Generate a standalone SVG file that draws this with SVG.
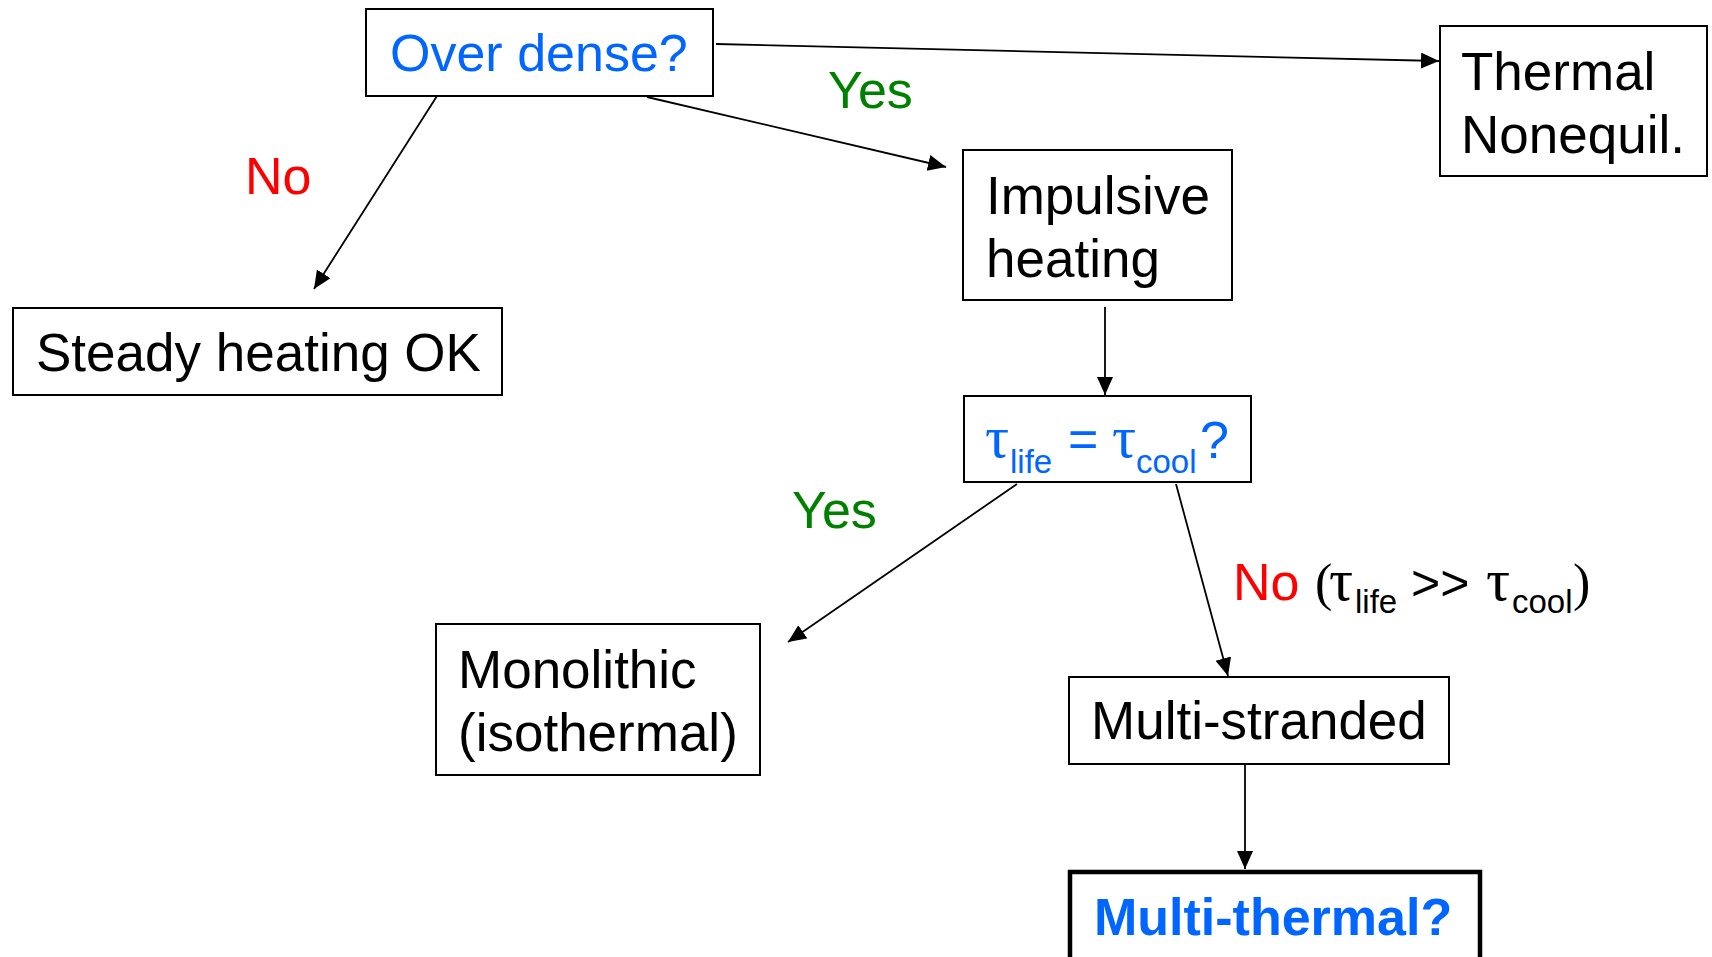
<svg xmlns="http://www.w3.org/2000/svg" width="1712" height="957" viewBox="0 0 1712 957">
  <style>
    .box { fill: #ffffff; stroke: #000000; stroke-width: 2; }
    .bold-box { fill: #ffffff; stroke: #000000; stroke-width: 4.5; }
    .t { font-family: "Liberation Sans", Arial, Helvetica, sans-serif; font-size: 53px; fill: #000000; }
    .blue { fill: #0066ff; font-size: 52px; }
    .red { fill: #ff0000; font-size: 52px; }
    .green { fill: #008000; font-size: 52px; }
    .sub { font-size: 33px; }
    .sym { font-family: "Liberation Serif", "Times New Roman", serif; font-size: 52px; }
    .tau { font-family: "Liberation Serif", "Times New Roman", serif; font-size: 60px; }
    .bld { font-weight: bold; }
    .conn { stroke: #000000; stroke-width: 1.8; fill: none; marker-end: url(#arrow); }
  </style>
  <defs>
    <marker id="arrow" markerUnits="userSpaceOnUse" markerWidth="19" markerHeight="17" refX="18" refY="8" orient="auto">
      <path d="M0,0 L18,8 L0,16 Z" fill="#000000"/>
    </marker>
  </defs>
  <rect width="1712" height="957" fill="#ffffff"/>

  <g id="connectors">
    <line class="conn" x1="437" y1="96" x2="314" y2="289"/>
    <line class="conn" x1="647" y1="97" x2="946" y2="167"/>
    <line class="conn" x1="716" y1="44" x2="1439" y2="61"/>
    <line class="conn" x1="1105" y1="307" x2="1105" y2="395"/>
    <line class="conn" x1="1017" y1="484" x2="788" y2="642"/>
    <line class="conn" x1="1176" y1="484" x2="1228" y2="676"/>
    <line class="conn" x1="1245" y1="764" x2="1245" y2="869"/>
  </g>

  <g id="labels">
    <text class="t red" x="245" y="194">No</text>
    <text class="t green" x="828" y="108">Yes</text>
    <text class="t green" x="792" y="528">Yes</text>
    <text class="t red" x="1233" y="600">No</text>
    <text class="t" y="600"><tspan class="sym" x="1315">(</tspan><tspan class="tau" x="1329">τ</tspan><tspan class="sub" x="1355" y="613">life</tspan><tspan x="1411" y="600" font-size="50">&gt;&gt;</tspan><tspan class="tau" x="1486" y="600">τ</tspan><tspan class="sub" x="1512" y="613">cool</tspan><tspan class="sym" x="1573" y="600">)</tspan></text>
  </g>

  <g id="node-overdense">
    <rect class="box" x="366" y="9" width="347" height="87"/>
    <text class="t blue" x="390" y="71">Over dense?</text>
  </g>

  <g id="node-steady">
    <rect class="box" x="13" y="308" width="489" height="87"/>
    <text class="t" x="36" y="371">Steady heating OK</text>
  </g>

  <g id="node-impulsive">
    <rect class="box" x="963" y="150" width="269" height="150"/>
    <text class="t" x="986" y="214">Impulsive</text>
    <text class="t" x="986" y="277">heating</text>
  </g>

  <g id="node-thermal">
    <rect class="box" x="1440" y="26" width="267" height="150"/>
    <text class="t" x="1461" y="90">Thermal</text>
    <text class="t" x="1461" y="153">Nonequil.</text>
  </g>

  <g id="node-tau">
    <rect class="box" x="964" y="396" width="287" height="86"/>
    <text class="t blue" y="457"><tspan class="tau" x="985">τ</tspan><tspan class="sub" x="1010" y="473">life</tspan><tspan x="1068" y="457">=</tspan><tspan class="tau" x="1112" y="457">τ</tspan><tspan class="sub" x="1136" y="473">cool</tspan><tspan x="1200" y="458">?</tspan></text>
  </g>

  <g id="node-monolithic">
    <rect class="box" x="436" y="624" width="324" height="151"/>
    <text class="t" x="458" y="688">Monolithic</text>
    <text class="t" x="458" y="751">(isothermal)</text>
  </g>

  <g id="node-multistranded">
    <rect class="box" x="1069" y="677" width="380" height="87"/>
    <text class="t" x="1091" y="739">Multi-stranded</text>
  </g>

  <g id="node-multithermal">
    <rect class="bold-box" x="1070" y="872" width="410" height="120"/>
    <text class="t blue bld" x="1094" y="935" font-size="53.5">Multi-thermal?</text>
  </g>
</svg>
